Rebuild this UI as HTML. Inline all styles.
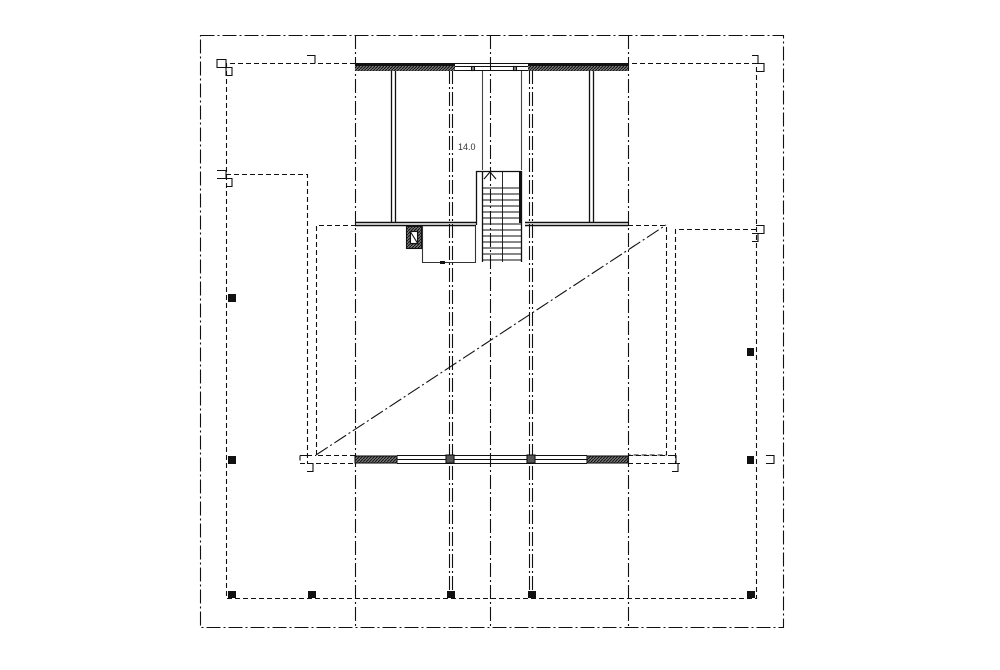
<!DOCTYPE html>
<html><head><meta charset="utf-8"><style>html,body{margin:0;padding:0;background:#fff}svg{display:block}</style></head>
<body>
<svg width="1000" height="670" viewBox="0 0 1000 670" xmlns="http://www.w3.org/2000/svg">
<defs>
<pattern id="h" width="3" height="3" patternUnits="userSpaceOnUse"><rect width="3" height="3" fill="#777"/><path d="M0 3L3 0" stroke="#111" stroke-width="1"/></pattern>
</defs>
<g fill="none" stroke="#111" stroke-width="1.1">
<g stroke-dasharray="14,3,2,3">
<rect x="200.5" y="35.5" width="583" height="592"/>
<line x1="355.5" y1="35" x2="355.5" y2="628"/>
<line x1="490.5" y1="35" x2="490.5" y2="628"/>
<line x1="628.5" y1="35" x2="628.5" y2="628"/>
<line x1="449.5" y1="70" x2="449.5" y2="598"/>
<line x1="452.5" y1="70" x2="452.5" y2="598"/>
<line x1="529.5" y1="70" x2="529.5" y2="598"/>
<line x1="532.5" y1="70" x2="532.5" y2="598"/>
<line x1="316" y1="455" x2="666" y2="225"/>
</g>
<g stroke-dasharray="5,3">
<path d="M355 63.5H226.5V598.5H756.5V63.5H628"/>
<path d="M226 174.5H307.5V463"/>
<path d="M316.5 455V225.5H355M628 225.5H666.5V455H628"/>
<path d="M355 455.5H316.5"/>
<path d="M300 463.5H355M628 463.5H680M628 455.5H666"/>
<path d="M756 229.5H675.5V463"/>
<path d="M300 455.5V463.5M307 455.5H316"/>
</g>
<path d="M217 59.5h9v8h-9zM226 67.5h6v8h-6zM307 55.5h8v8M752 55.5h6v8M756 63.5h8v8h-8M217 170.5h9v8h-9M226 178.5h6v8h-6M756 225.5h8v8h-8M752 233.5h6v8h-6M766 455.5h8v8h-8M300 455.5h8M668 455.5h8v8h-8M307 463.5h6v8h-6M672 463.5h6v8h-6"/>
<rect x="355" y="66" width="100" height="5" fill="url(#h)" stroke="none"/>
<rect x="528" y="66" width="100" height="5" fill="url(#h)" stroke="none"/>
<rect x="355" y="63" width="100" height="3" fill="#111" stroke="none"/>
<rect x="528" y="63" width="100" height="3" fill="#111" stroke="none"/>
<path d="M455 63.5H528M455 66.5H528M455 70.5H528"/>
<rect x="471.5" y="66.5" width="3" height="4" fill="#888"/>
<rect x="513.5" y="66.5" width="3" height="4" fill="#888"/>
<path d="M391.5 71V222M395.5 71V222M589.5 71V222M593.5 71V222" stroke-width="1.3"/>
<path d="M355 222.5H476M355 225.5H476M525 222.5H628M525 225.5H628" stroke-width="1.6"/>
<path d="M482.5 71V170M521.5 71V170" stroke="#444"/>
<path d="M476.5 225V171.5H482.5V262M482.5 171.5H521.5V262" stroke-width="1.3"/>
<rect x="519" y="171" width="3" height="52" fill="#111" stroke="none"/>
<path d="M484 179L490 172L496 179"/>
<g stroke-width="0.9">
<path d="M483 188H521M483 194H521M483 200H521M483 206H521M483 212H521M483 218H521M483 224H521M483 230H521M483 236H521M483 242H521M483 248H521M483 254H521M483 260H521"/>
<path d="M502.5 172V262"/>
</g>
<rect x="406.5" y="226.5" width="15" height="22" fill="url(#h)"/>
<rect x="410.5" y="231.5" width="7" height="12" fill="#fff"/>
<path d="M410 231L418 244"/>
<path d="M422.5 226V262.5H475.5V226" stroke="#333"/>
<rect x="440" y="261" width="5" height="3" fill="#111" stroke="none"/>
<rect x="355" y="456" width="42" height="7" fill="url(#h)" stroke="#111"/>
<rect x="587" y="456" width="41" height="7" fill="url(#h)" stroke="#111"/>
<path d="M397 455.5H587M397 459.5H587M397 463.5H587"/>
<rect x="446" y="455" width="8" height="8" fill="#555" stroke="#111"/>
<rect x="527" y="455" width="8" height="8" fill="#555" stroke="#111"/>
</g>
<g fill="#111">
<rect x="228" y="294" width="8" height="8"/>
<rect x="228" y="456" width="8" height="8"/>
<rect x="228" y="591" width="8" height="7"/>
<rect x="308" y="591" width="8" height="7"/>
<rect x="447" y="591" width="8" height="7"/>
<rect x="528" y="591" width="8" height="7"/>
<rect x="747" y="591" width="8" height="7"/>
<rect x="747" y="456" width="7" height="8"/>
<rect x="747" y="348" width="7" height="8"/>
</g>
<text x="458" y="150" font-family="Liberation Sans, sans-serif" font-size="9" fill="#333">14.0</text>
</svg>
</body></html>
